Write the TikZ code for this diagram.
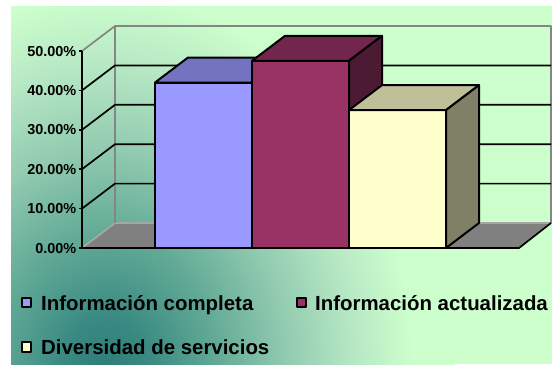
\documentclass[tikz,border=0pt]{standalone}
\usepackage{fontspec}
\setmainfont{Liberation Sans}
\usetikzlibrary{positioning}
\usepackage{xcolor}
\definecolor{MintBg}{HTML}{CCFFCC}
\definecolor{TealDeep}{HTML}{2E7C78}
\definecolor{TealMid}{HTML}{398982}
\definecolor{TealSoft}{HTML}{62AA96}
\definecolor{SeaSoft}{HTML}{92CBB0}
\definecolor{SeaPale}{HTML}{B8E9C5}
\definecolor{FloorGray}{HTML}{808080}
\definecolor{WallGray}{HTML}{858585}
\definecolor{BarBlue}{HTML}{9999FF}
\definecolor{BarBlueTop}{HTML}{7373BF}
\definecolor{BarBlueSide}{HTML}{4D4D80}
\definecolor{BarWine}{HTML}{993366}
\definecolor{BarWineTop}{HTML}{73264D}
\definecolor{BarWineSide}{HTML}{4D1A33}
\definecolor{BarCream}{HTML}{FFFFCC}
\definecolor{BarCreamTop}{HTML}{BFBF99}
\definecolor{BarCreamSide}{HTML}{808066}
\pgfdeclareradialshading{bgglow}{\pgfpointorigin}{color(0bp)=(TealDeep); color(3bp)=(TealMid); color(8bp)=(TealSoft); color(13bp)=(SeaSoft); color(18bp)=(SeaPale); color(22bp)=(MintBg); color(25bp)=(MintBg); color(50bp)=(MintBg)}

\begin{document}
\begin{tikzpicture}[x=1bp, y=-1bp, line join=round,
    gridline/.style={black, line width=1.7bp},
    wallline/.style={WallGray, line width=1.7bp},
    barline/.style={draw=black, line width=2bp},
    axislabel/.style={font=\fontsize{14.5}{16}\selectfont\bfseries, inner sep=0pt, anchor=base east},
    legmark/.style={draw=black, line width=1.8bp, minimum size=9.5bp, inner sep=0pt},
    legtext/.style={font=\fontsize{20.5}{24}\selectfont\bfseries, inner sep=0pt, anchor=base west}]
    % Background
    \useasboundingbox (0,0) rectangle (552,364);
    \begin{scope}
        \clip (11,6) rectangle (552,364);
        \fill[MintBg] (11,6) rectangle (552,364);
        \shade[shading=bgglow] (105,372) ellipse [x radius=350, y radius=430];
    \end{scope}

    % Floor and walls
    \fill[FloorGray] (82,248) -- (115,223) -- (551,223) -- (519,248) -- cycle;
    \draw[wallline, gray!70] (82,248) -- (115,223) -- (551,223);
    \draw[wallline] (82,51) -- (115,26) -- (551,26) -- (551,223);
    \draw[wallline] (115,26) -- (115,223);
    \foreach \v in {10,20,30,40}{
        \pgfmathsetmacro{\yy}{248-3.94*\v}
        \draw[gridline] (82,\yy) -- ++(33,-25) -- (551,{\yy-25});
    }
    \draw[gridline] (82,51) -- (82,248) -- (519,248) -- (551,223);

    % Bars
    \foreach \xl/\val/\cf/\ct/\cs in {155/42/BarBlue/BarBlueTop/BarBlueSide,
                                   252/47.5/BarWine/BarWineTop/BarWineSide,
                                   349/35/BarCream/BarCreamTop/BarCreamSide}{
        \pgfmathsetmacro{\yt}{248-3.94*\val}
        \pgfmathsetmacro{\xr}{\xl+97}
        \pgfmathsetmacro{\xb}{\xl+130}
        \draw[barline, fill=\cf] (\xl,248) rectangle (\xr,\yt);
        \draw[barline, fill=\ct] (\xl,\yt) -- ++(33,-25) -- ++(97,0) -- (\xr,\yt) -- cycle;
        \draw[barline, fill=\cs] (\xr,248) -- (\xr,\yt) -- ++(33,-25) -- (\xb,223) -- cycle;
    }

    % Axis labels
    \foreach \lab/\v in {0.00/0, 10.00/10, 20.00/20, 30.00/30, 40.00/40, 50.00/50}{
        \pgfmathsetmacro{\yy}{248-3.94*\v}
        \draw[gridline] (79,\yy) -- (82,\yy);
        \node[axislabel] (ax\v) at (76.5,{\yy+5}) {\lab\%};
    }

    % Legend
    \node[legmark, fill=BarBlue] (mkA) at (26.5,302.5) {};
    \node[legtext] (lgA) at (41,310) {Información completa};
    \node[legmark, fill=BarWine] (mkB) at (301.5,302.5) {};
    \node[legtext] (lgB) at (315,310) {Información actualizada};
    \node[legmark, fill=BarCream] (mkC) at (26.5,347) {};
    \node[legtext] (lgC) at (41,354) {Diversidad de servicios};
\end{tikzpicture}
\end{document}
